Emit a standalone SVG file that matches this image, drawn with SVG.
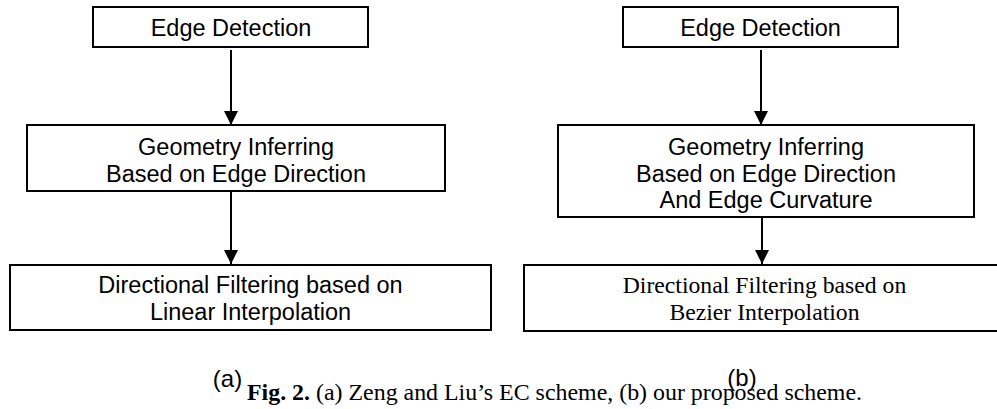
<svg xmlns="http://www.w3.org/2000/svg" width="997" height="409" viewBox="0 0 997 409">
<style>
.box{fill:#fff;stroke:#000;stroke-width:2}
.t{font-family:"Liberation Sans",Arial,sans-serif;font-size:23.5px;fill:#000;text-anchor:middle}
.s{font-family:"Liberation Serif","Times New Roman",serif;font-size:23.7px;fill:#000;text-anchor:middle}
.c{font-family:"Liberation Serif","Times New Roman",serif;font-size:23px;fill:#000}
.conn{stroke:#000;stroke-width:2;fill:none}
</style>
<defs>
<marker id="ah" markerUnits="userSpaceOnUse" markerWidth="14" markerHeight="14" refX="14" refY="7" orient="auto">
<path d="M0,0 L14,7 L0,14 z" fill="#000"/>
</marker>
</defs>
<rect width="997" height="409" fill="#fff"/>
<g id="connectors">
<line class="conn" x1="231" y1="50" x2="231" y2="125" marker-end="url(#ah)"/>
<line class="conn" x1="231" y1="191" x2="231" y2="264" marker-end="url(#ah)"/>
<line class="conn" x1="761" y1="50" x2="761" y2="125" marker-end="url(#ah)"/>
<line class="conn" x1="762" y1="212" x2="762" y2="264" marker-end="url(#ah)"/>
</g>
<g id="a1"><rect class="box" x="93" y="7" width="275" height="40"/><text class="t" x="231" y="36">Edge Detection</text></g>
<g id="a2"><rect class="box" x="27" y="125" width="418" height="66"/><text class="t" x="236" y="155">Geometry Inferring</text><text class="t" x="236" y="181.5">Based on Edge Direction</text></g>
<g id="a3"><rect class="box" x="10" y="265" width="481" height="65"/><text class="t" x="250.5" y="293">Directional Filtering based on</text><text class="t" x="250.5" y="320">Linear Interpolation</text></g>
<g id="b1"><rect class="box" x="623" y="7" width="275" height="40"/><text class="t" x="760.5" y="36">Edge Detection</text></g>
<g id="b2"><rect class="box" x="558" y="125" width="416" height="92"/><text class="t" x="766" y="155">Geometry Inferring</text><text class="t" x="766" y="181.5">Based on Edge Direction</text><text class="t" x="766" y="208">And Edge Curvature</text></g>
<g id="b3"><rect class="box" x="524" y="265" width="490" height="66"/><text class="s" x="764.5" y="293">Directional Filtering based on</text><text class="s" x="764.5" y="320">Bezier Interpolation</text></g>
<text class="t" x="227.5" y="387" style="font-size:24px">(a)</text>
<text class="t" x="742" y="386" style="font-size:24px">(b)</text>
<text class="c" x="247" y="400" textLength="615" lengthAdjust="spacingAndGlyphs"><tspan font-weight="bold">Fig. 2.</tspan> (a) Zeng and Liu’s EC scheme, (b) our proposed scheme.</text>
</svg>
